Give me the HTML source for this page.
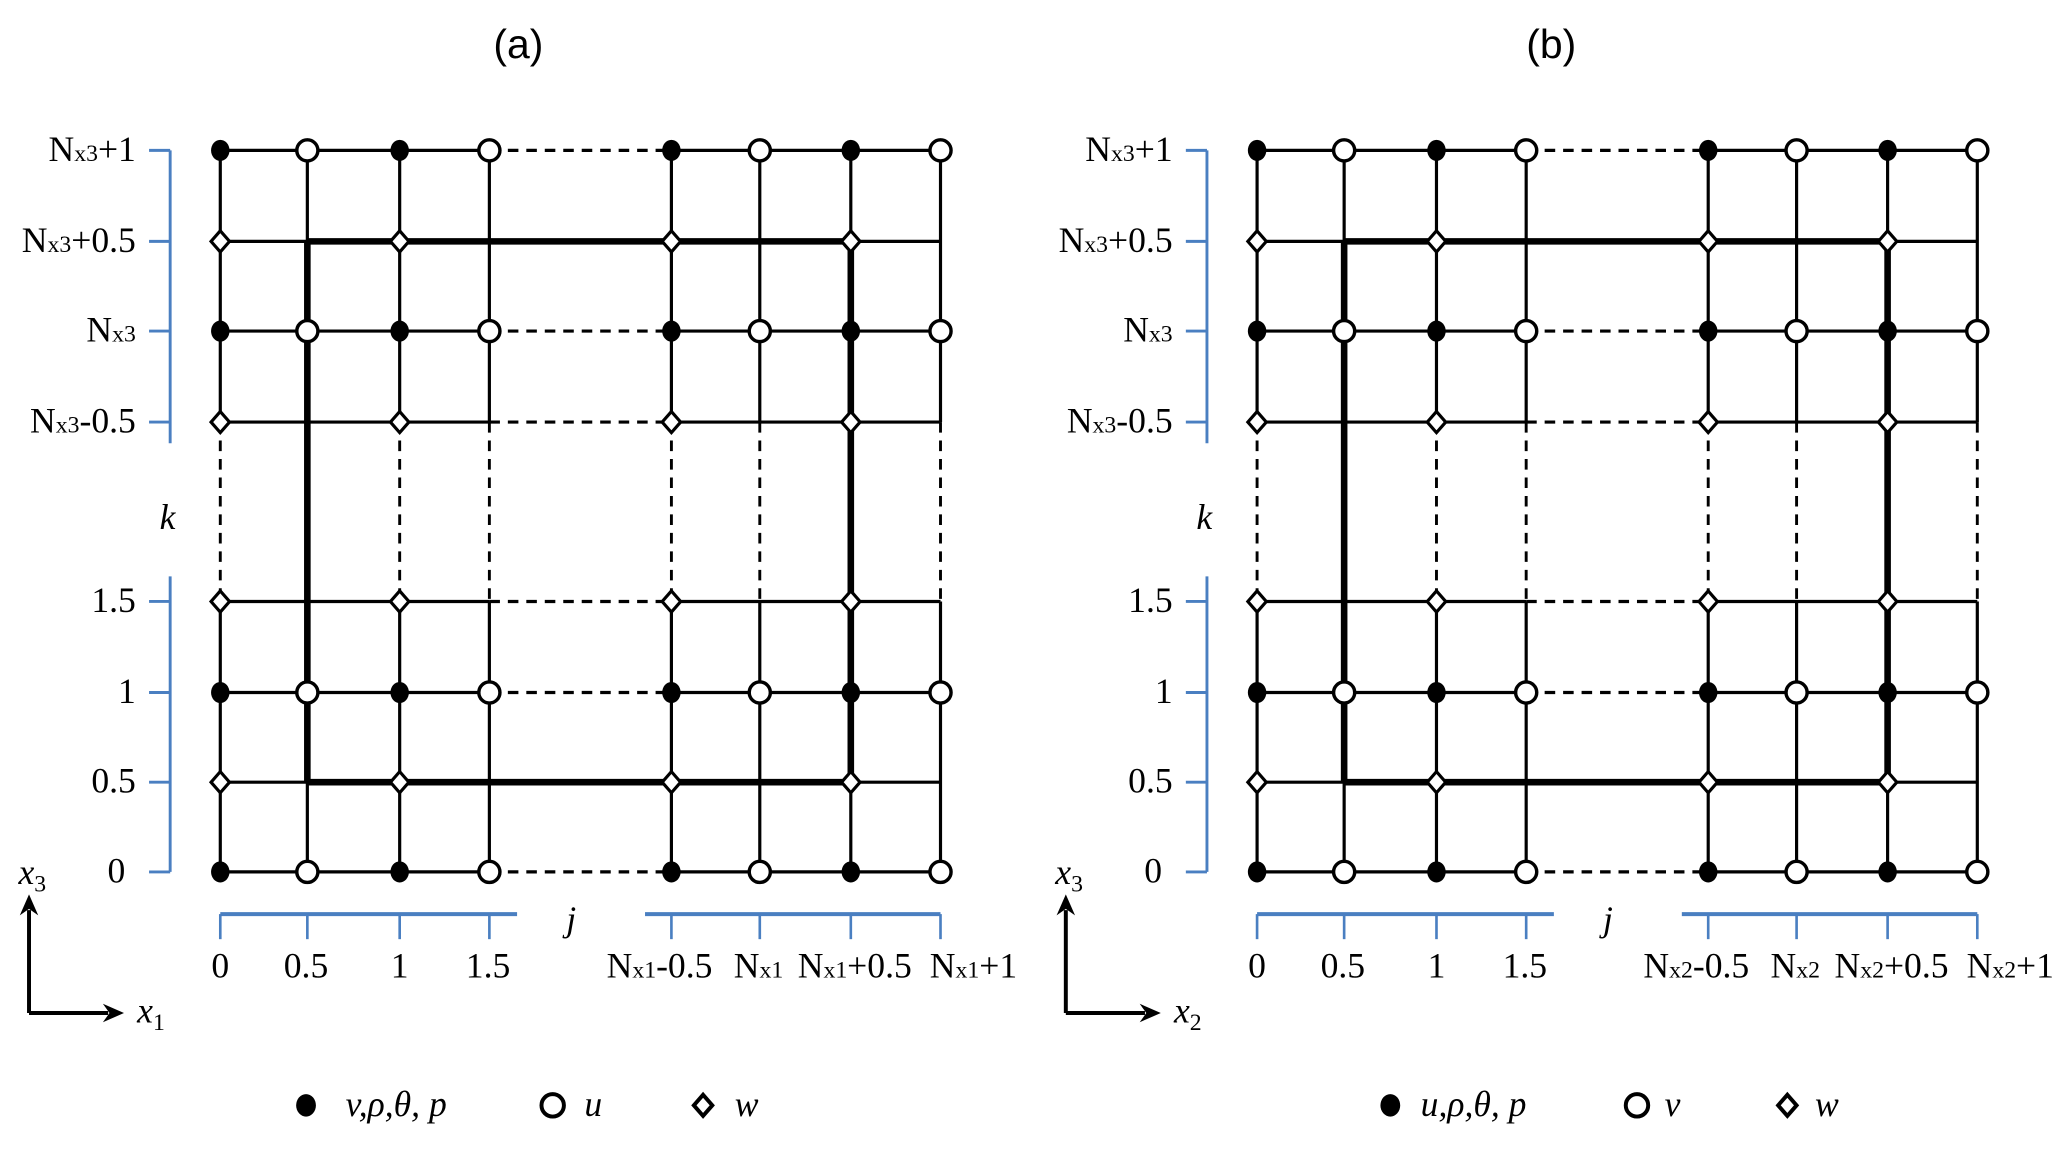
<!DOCTYPE html>
<html><head><meta charset="utf-8"><style>
html,body{margin:0;padding:0;background:#fff;}
svg{display:block;}
.t{font-family:"Liberation Serif",serif;font-size:27px;fill:#000;}
.s{font-size:18px;}
.i{font-style:italic;}
.h{font-family:"Liberation Sans",sans-serif;font-size:31px;}
</style></head><body>
<svg id="sv" width="2067" height="1151" viewBox="0 0 1567 872.6" preserveAspectRatio="none" xmlns="http://www.w3.org/2000/svg">
<g id="g"></g>
<text class="t h" x="393" y="44" text-anchor="middle">(a)</text>
<text class="t h" x="1176" y="44" text-anchor="middle">(b)</text>
<g class="t" text-anchor="end">
<text x="103" y="122">N<tspan class="s">x3</tspan>+1</text>
<text x="103" y="191">N<tspan class="s">x3</tspan>+0.5</text>
<text x="103" y="259">N<tspan class="s">x3</tspan></text>
<text x="103" y="328">N<tspan class="s">x3</tspan>-0.5</text>
<text x="103" y="464">1.5</text>
<text x="103" y="533">1</text>
<text x="103" y="601">0.5</text>
<text x="95" y="669">0</text>
<text x="889" y="122">N<tspan class="s">x3</tspan>+1</text>
<text x="889" y="191">N<tspan class="s">x3</tspan>+0.5</text>
<text x="889" y="259">N<tspan class="s">x3</tspan></text>
<text x="889" y="328">N<tspan class="s">x3</tspan>-0.5</text>
<text x="889" y="464">1.5</text>
<text x="889" y="533">1</text>
<text x="889" y="601">0.5</text>
<text x="881" y="669">0</text>
</g>
<g class="t" text-anchor="middle">
<text class="i" x="127" y="401">k</text>
<text class="i" x="913" y="401">k</text>
<text class="i" x="433" y="706">j</text>
<text class="i" x="1219" y="706">j</text>
<text x="167" y="741">0</text><text x="232" y="741">0.5</text><text x="303" y="741">1</text><text x="370" y="741">1.5</text>
<text x="500" y="741">N<tspan class="s">x1</tspan>-0.5</text>
<text x="575" y="741">N<tspan class="s">x1</tspan></text>
<text x="648" y="741">N<tspan class="s">x1</tspan>+0.5</text>
<text x="738" y="741">N<tspan class="s">x1</tspan>+1</text>
<text x="953" y="741">0</text><text x="1018" y="741">0.5</text><text x="1089" y="741">1</text><text x="1156" y="741">1.5</text>
<text x="1286" y="741">N<tspan class="s">x2</tspan>-0.5</text>
<text x="1361" y="741">N<tspan class="s">x2</tspan></text>
<text x="1434" y="741">N<tspan class="s">x2</tspan>+0.5</text>
<text x="1524" y="741">N<tspan class="s">x2</tspan>+1</text>
</g>
<g class="t i">
<text x="14" y="670">x<tspan class="s" dy="6" font-style="normal">3</tspan></text>
<text x="104" y="775">x<tspan class="s" dy="6" font-style="normal">1</tspan></text>
<text x="800" y="670">x<tspan class="s" dy="6" font-style="normal">3</tspan></text>
<text x="890" y="775">x<tspan class="s" dy="6" font-style="normal">2</tspan></text>
<text x="262" y="846">v,ρ,θ, p</text>
<text x="443" y="846">u</text>
<text x="557" y="846">w</text>
<text x="1077" y="846">u,ρ,θ, p</text>
<text x="1262" y="846">v</text>
<text x="1376" y="846">w</text>
</g>
</svg>
<script>
var NS="http://www.w3.org/2000/svg",G=document.getElementById('g');
function el(t,a){var e=document.createElementNS(NS,t);for(var k in a)e.setAttribute(k,a[k]);G.appendChild(e);return e;}
function L(x1,y1,x2,y2,w,dash,c){var a={x1:x1,y1:y1,x2:x2,y2:y2,stroke:c||'#000','stroke-width':w||2.4};if(dash)a['stroke-dasharray']=dash;el('line',a);}
function fc(x,y){el('ellipse',{cx:x,cy:y,rx:7,ry:8,fill:'#000'});}
function oc(x,y){el('circle',{cx:x,cy:y,r:8,fill:'#fff',stroke:'#000','stroke-width':2.6});}
function dm(x,y){el('polygon',{points:(x)+','+(y-8)+' '+(x+7)+','+y+' '+x+','+(y+8)+' '+(x-7)+','+y,fill:'#fff',stroke:'#000','stroke-width':2.4});}
var D='8,6';
function panel(o,lo){
 var C=[167,233,303,371,509,576,645,713].map(function(v){return v+o;});
 var R=[114,183,251,320,456,525,593,661];
 var blue='#4a7fc1';
 L(129+o,114,129+o,336,2.2,null,blue);L(129+o,437,129+o,661,2.2,null,blue);
 R.forEach(function(y){L(113+o,y,129+o,y,2.2,null,blue);});
 L(167+o,693,392+o,693,3,null,blue);L(489+o,693,713+o,693,3,null,blue);
 [167,233,303,371].forEach(function(x){L(x+o,693,x+o,712,2,null,blue);});
 [509,576,645,713].forEach(function(x){L(x+o,693,x+o,712,2,null,blue);});
 [114,251,320,456,525,661].forEach(function(y){L(C[0],y,C[3],y);L(C[3],y,C[4],y,2.4,D);L(C[4],y,C[7],y);});
 [183,593].forEach(function(y){L(C[0],y,C[7],y);L(C[1],y,C[6],y,5);});
 [0,2,3,4,5,7].forEach(function(i){L(C[i],114,C[i],320);L(C[i],320,C[i],456,2.2,D);L(C[i],456,C[i],661);});
 [1,6].forEach(function(i){L(C[i],114,C[i],661);L(C[i],183,C[i],593,5);});
 [114,251,525,661].forEach(function(y){[0,2,4,6].forEach(function(i){fc(C[i],y);});[1,3,5,7].forEach(function(i){oc(C[i],y);});});
 [183,320,456,593].forEach(function(y){[0,2,4,6].forEach(function(i){dm(C[i],y);});});
 L(22+o,768,22+o,690,3);el('polygon',{points:(22+o)+',678 '+(15+o)+',694 '+(22+o)+',689 '+(29+o)+',694',fill:'#000'});
 L(22+o,768,82+o,768,3);el('polygon',{points:(94+o)+',768 '+(78+o)+',761 '+(83+o)+',768 '+(78+o)+',775',fill:'#000'});
 var lx=[232,419,533];
 el('ellipse',{cx:lx[0]+lo,cy:838,rx:7.5,ry:8.5,fill:'#000'});
 el('circle',{cx:lx[1]+lo,cy:838,r:8.5,fill:'#fff',stroke:'#000','stroke-width':3});
 el('polygon',{points:(lx[2]+lo)+',830 '+(lx[2]+lo+7)+',838 '+(lx[2]+lo)+',846 '+(lx[2]+lo-7)+',838',fill:'#fff',stroke:'#000','stroke-width':3});
}
panel(0,0);panel(786,822);
</script>
</body></html>
